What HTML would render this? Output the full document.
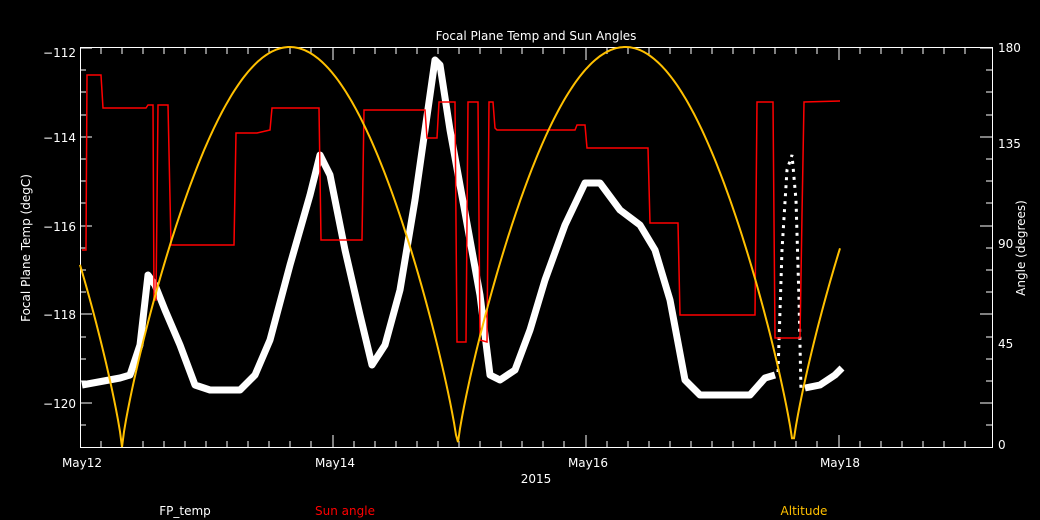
<!DOCTYPE html><html><head><style>body{margin:0;background:#000}svg{display:block}text{font-family:"DejaVu Sans","Liberation Sans",sans-serif;font-size:12px}</style></head><body>
<svg width="1040" height="520" viewBox="0 0 1040 520" xmlns="http://www.w3.org/2000/svg">
<rect width="1040" height="520" fill="#000"/>
<text x="536" y="40" fill="#fff" text-anchor="middle" font-size="14">Focal Plane Temp and Sun Angles</text>
<g stroke="#fff" stroke-width="1" fill="none">
<rect x="80.5" y="47.5" width="912" height="400"/>
<path id="lt" d="M80 48h12M80 137h12M80 226h12M80 314h12M80 403h12M80 70h6M80 92h6M80 115h6M80 159h6M80 181h6M80 203h6M80 248h6M80 270h6M80 292h6M80 337h6M80 359h6M80 381h6M80 425h6"/>
<path d="M992 48h-12M992 137h-12M992 226h-12M992 314h-12M992 403h-12M992 70h-6M992 92h-6M992 115h-6M992 159h-6M992 181h-6M992 203h-6M992 248h-6M992 270h-6M992 292h-6M992 337h-6M992 359h-6M992 381h-6M992 425h-6"/>
<path d="M333 447v-12M586 447v-12M839 447v-12M333 48v12M586 48v12M839 48v12M101 447v-6M122 447v-6M143 447v-6M164 447v-6M185 447v-6M206 447v-6M227 447v-6M248 447v-6M269 447v-6M290 447v-6M311 447v-6M354 447v-6M375 447v-6M396 447v-6M417 447v-6M438 447v-6M459 447v-6M480 447v-6M501 447v-6M522 447v-6M543 447v-6M564 447v-6M607 447v-6M628 447v-6M649 447v-6M670 447v-6M691 447v-6M712 447v-6M733 447v-6M754 447v-6M775 447v-6M796 447v-6M817 447v-6M860 447v-6M881 447v-6M902 447v-6M923 447v-6M944 447v-6M965 447v-6M101 48v6M122 48v6M143 48v6M164 48v6M185 48v6M206 48v6M227 48v6M248 48v6M269 48v6M290 48v6M311 48v6M354 48v6M375 48v6M396 48v6M417 48v6M438 48v6M459 48v6M480 48v6M501 48v6M522 48v6M543 48v6M564 48v6M607 48v6M628 48v6M649 48v6M670 48v6M691 48v6M712 48v6M733 48v6M754 48v6M775 48v6M796 48v6M817 48v6M860 48v6M881 48v6M902 48v6M923 48v6M944 48v6M965 48v6"/>
</g>
<g fill="#fff" text-anchor="end">
<text x="76" y="57">−112</text><text x="76" y="142">−114</text><text x="76" y="231">−116</text><text x="76" y="319">−118</text><text x="76" y="408">−120</text></g>
<g fill="#fff"><text x="998" y="52">180</text><text x="998" y="148">135</text><text x="998" y="248">90</text><text x="998" y="348">45</text><text x="998" y="449">0</text></g>
<g fill="#fff" text-anchor="middle"><text x="82" y="467">May12</text><text x="335" y="467">May14</text><text x="588" y="467">May16</text><text x="840" y="467">May18</text><text x="536" y="483">2015</text></g>
<text transform="translate(30,248) rotate(-90)" fill="#fff" text-anchor="middle">Focal Plane Temp (degC)</text>
<text transform="translate(1025,248) rotate(-90)" fill="#fff" text-anchor="middle">Angle (degrees)</text>
<polyline fill="none" stroke="#fff" stroke-width="7" stroke-linejoin="round" points="82,385 120,378 130,375 140,345 148,275 155,285 165,310 180,345 195,385 210,390 240,390 255,375 270,340 290,265 310,195 320,155 330,175 345,250 360,315 372,365 385,345 400,290 415,200 425,130 435,60 440,65 450,130 460,185 470,240 480,295 490,375 500,380 515,370 530,330 545,280 565,225 585,183 600,183 620,210 640,225 655,250 670,300 685,380 700,395 750,395 765,378 775,375"/>
<polyline fill="none" stroke="#fff" stroke-width="3" stroke-dasharray="3 5" points="778,372 782,250 787,170 792,155 796,200 799,300 801,390"/>
<polyline fill="none" stroke="#fff" stroke-width="7" stroke-linejoin="round" points="805,388 820,385 835,375 842,368"/>
<polyline fill="none" stroke="#f00" stroke-width="1.5" points="82,250 86,250 87,75 101,75 103,108 146,108 148,105 153,105 154,300 156,300 158,105 166,105 168,105 171,245 234,245 236,133 257,133 270,130 272,108 319,108 321,240 362,240 364,110 425,110 427,138 437,138 439,102 455,102 457,342 466,342 468,102 478,102 480,340 487,342 489,102 493,102 495,128 497,130 575,130 577,125 585,125 587,148 648,148 650,223 678,223 680,315 755,315 757,102 773,102 775,338 800,338 802,215 804,102 840,101"/>
<polyline fill="none" stroke="#ffc000" stroke-width="2" id="alt" points=""/>
<text x="185" y="515" fill="#fff" text-anchor="middle">FP_temp</text>
<text x="345" y="515" fill="#f00" text-anchor="middle">Sun angle</text>
<text x="804" y="515" fill="#ffc000" text-anchor="middle">Altitude</text>
<script>
var p=[];for(var x=80;x<=840;x+=2){var s=Math.abs(Math.sin(Math.PI*(x-122)/335.5));var a=180*Math.pow(s,0.82);p.push(x+","+(447-a*400/180).toFixed(1));}
document.getElementById("alt").setAttribute("points",p.join(" "));
</script>
</svg></body></html>
